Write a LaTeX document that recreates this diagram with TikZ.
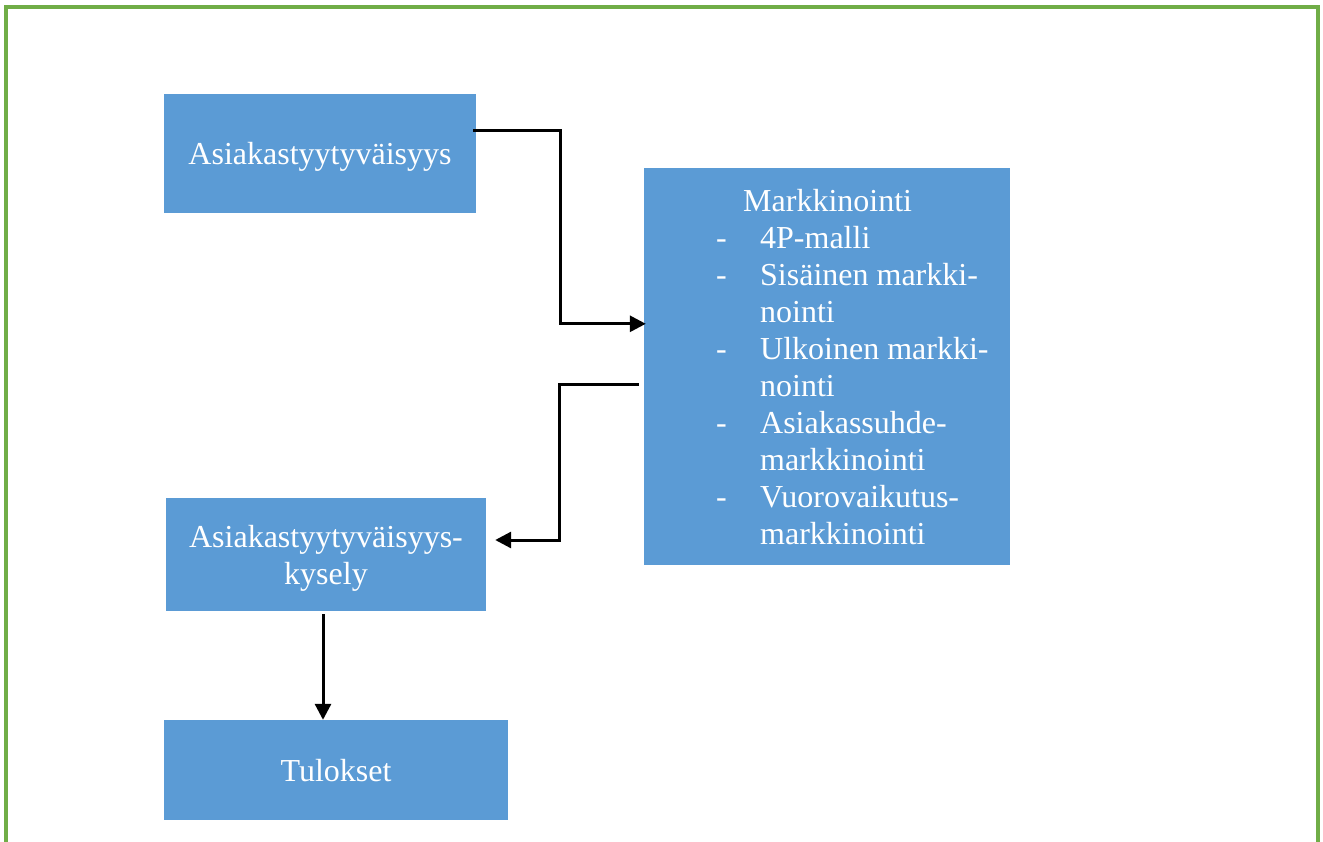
\documentclass[tikz,border=0pt]{standalone}
\usepackage{fontspec}
\setmainfont{Liberation Serif}
\usetikzlibrary{arrows.meta,calc}
\definecolor{boxblue}{HTML}{5B9BD5}
\definecolor{framegreen}{HTML}{70AD47}

\begin{document}
\begin{tikzpicture}[x=1pt,y=-1pt,
        box/.style={fill=boxblue,draw=none,text=white,align=center,text depth=0pt,font=\fontsize{32}{37}\selectfont},
        conn/.style={draw=black,line width=3pt,-{Triangle[length=16pt,width=16pt]}}]
        \useasboundingbox (0,0) rectangle (1323,841);
        \draw[framegreen,line width=3.5pt] (6,850) -- (6,7) -- (1318,7) -- (1318,850);
        \node[box,minimum width=312pt,minimum height=119pt] (tyyt) at (320,153.5) {Asiakastyytyv\"aisyys};
        \node[box,minimum width=366pt,minimum height=397pt] (mark) at (827,366.5) {};
        \node[box,align=left,inner sep=0pt,anchor=north west] (marktext) at (716,189) {%
            \hspace*{27pt}Markkinointi\\
            \makebox[44pt][l]{-}4P-malli\\
            \makebox[44pt][l]{-}Sis\"ainen markki-\\
            \hspace*{44pt}nointi\\
            \makebox[44pt][l]{-}Ulkoinen markki-\\
            \hspace*{44pt}nointi\\
            \makebox[44pt][l]{-}Asiakassuhde-\\
            \hspace*{44pt}markkinointi\\
            \makebox[44pt][l]{-}Vuorovaikutus-\\
            \hspace*{44pt}markkinointi};
        \node[box,minimum width=320pt,minimum height=113pt] (kysely) at (326,554.5) {Asiakastyytyv\"aisyys-\\kysely};
        \node[box,minimum width=344pt,minimum height=100pt] (tulos) at (336,770) {Tulokset};
        \draw[conn] ($(tyyt.north east)+(-3,37)$) -- ++(87,0) |- ($(mark.north west)+(2,156)$);
        \draw[conn] ($(mark.north west)+(-5,217)$) -- ++(-79,0) |- ($(kysely.east)+(9,-14.5)$);
        \draw[conn] ([xshift=-3pt,yshift=-3pt]kysely.south) -- ([xshift=-3pt]kysely.south |- tulos.north);
\end{tikzpicture}
\end{document}
